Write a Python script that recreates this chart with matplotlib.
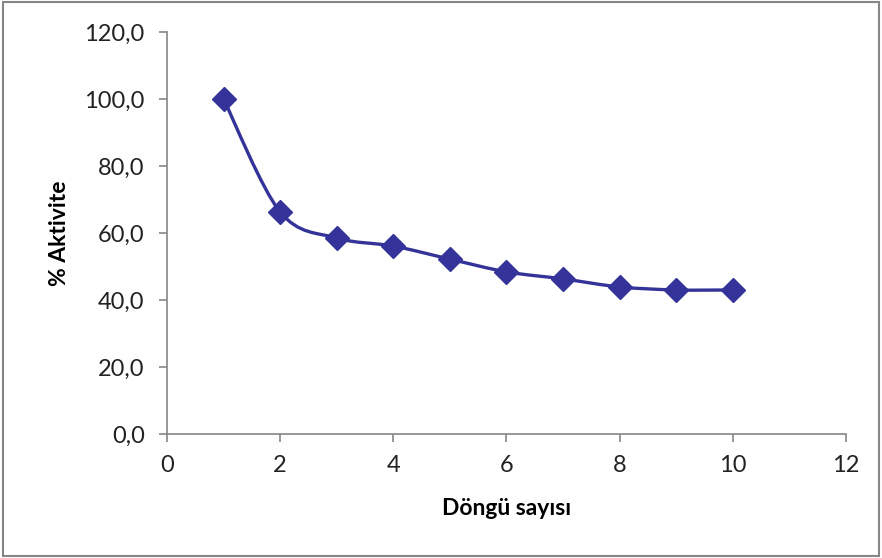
import numpy as np
import matplotlib.pyplot as plt
from matplotlib.path import Path
from matplotlib.patches import PathPatch, Rectangle

plt.switch_backend('Agg')
plt.rcParams['font.family'] = ['Lato', 'DejaVu Sans']

# data
cycles = [1, 2, 3, 4, 5, 6, 7, 8, 9, 10]
activity = [100.0, 66.3, 58.5, 56.1, 52.2, 48.4, 46.3, 43.9, 43.0, 43.0]
y_ticks = [0, 20, 40, 60, 80, 100, 120]
x_ticks = [0, 2, 4, 6, 8, 10, 12]

line_color = '#333399'
axis_color = '#868686'

fig = plt.figure(figsize=(8.82, 5.58), dpi=100)
# outer chart border
fig.patches.append(Rectangle((0.003, 0.004), 0.994, 0.992, transform=fig.transFigure,
                             fill=False, edgecolor=axis_color, linewidth=1.5))
ax = fig.add_axes([0.1893, 0.2222, 0.7699, 0.7205])

# smoothed line like the spreadsheet one (cubic bezier through the points)
pts = np.column_stack([cycles, activity]).astype(float)
verts = [pts[0]]
codes = [Path.MOVETO]
n = len(pts)
for i in range(n - 1):
    p0 = pts[i - 1] if i > 0 else pts[i]
    p1 = pts[i]
    p2 = pts[i + 1]
    p3 = pts[i + 2] if i + 2 < n else pts[i + 1]
    c1 = p1 + (p2 - p0) / 6.0
    c2 = p2 - (p3 - p1) / 6.0
    verts += [c1, c2, p2]
    codes += [Path.CURVE4] * 3
ax.add_patch(PathPatch(Path(verts, codes), facecolor='none', edgecolor=line_color,
                       linewidth=2.4, zorder=2))
ax.plot(cycles, activity, linestyle='none', marker='D', markersize=12.5,
        color=line_color, zorder=3)

ax.set_xlim(0, 12)
ax.set_ylim(0, 120)
ax.set_xticks(x_ticks)
ax.set_yticks(y_ticks)
ax.set_yticklabels([f'{v:.1f}'.replace('.', ',') for v in y_ticks])
for side in ['top', 'right']:
    ax.spines[side].set_visible(False)
for side in ['left', 'bottom']:
    ax.spines[side].set_color(axis_color)
    ax.spines[side].set_linewidth(1.2)
ax.tick_params(axis='both', direction='out', length=6, width=1.2, color=axis_color,
               labelsize=17, labelcolor='#222222')
ax.tick_params(axis='y', pad=10)
ax.tick_params(axis='x', pad=9)

ax.set_xlabel('Döngü sayısı', fontsize=16.5, fontweight='bold', labelpad=16)
ax.set_ylabel('% Aktivite', fontsize=16.5, fontweight='bold', labelpad=10)

plt.savefig('out.png', dpi=100)
